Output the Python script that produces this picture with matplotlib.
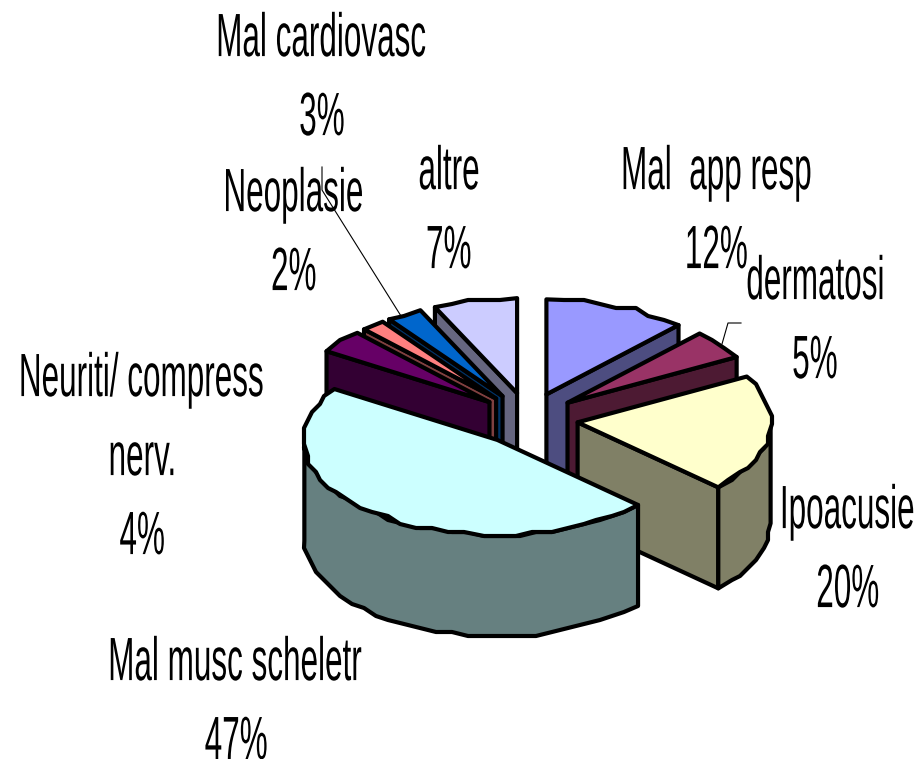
import matplotlib
matplotlib.use("Agg")
import matplotlib.pyplot as plt
import numpy as np
from matplotlib.font_manager import FontProperties
from matplotlib.patches import Polygon
from matplotlib.text import Text
from matplotlib.textpath import TextPath
from matplotlib.transforms import Affine2D, Bbox

categories = ["Mal  app resp", "dermatosi", "Ipoacusie", "Mal musc scheletr",
              "Neuriti/ compress\nnerv.", "Neoplasie", "Mal cardiovasc", "altre"]
values = [12, 5, 20, 47, 4, 2, 3, 7]
top_colors = ["#9999FF", "#993366", "#FFFFCC", "#CCFFFF",
              "#660066", "#FF8080", "#0066CC", "#CCCCFF"]
# back to front
draw_order = [0, 7, 6, 5, 4, 1, 2, 3]

# label centres in pixels (x, y of the first line)
label_pos = [(717, 168), (815, 278), (848, 507), (236, 659),
             (142, 375), (294, 190), (322, 35), (449, 168)]
line_step = 79

CX, CY = 528, 419
RX, RY = 193, 95
DEPTH = 101
EXPLODE = 50
EXPLODE_Y = 0.53


class NarrowText(Text):
    """Text squeezed horizontally, like the old Excel labels."""
    squeeze = 0.515

    def _path(self):
        fp = FontProperties(family="Liberation Sans", size=self.get_fontsize())
        return TextPath((0, 0), self.get_text(), prop=fp)

    def _tr(self, renderer_scale):
        box = self._path().get_extents()
        x, y = self.get_transform().transform(self.get_position())
        return (Affine2D().translate(-box.x0 - box.width / 2, -0.345 * self.get_fontsize())
                .scale(renderer_scale * self.squeeze, renderer_scale).translate(x, y))

    def get_window_extent(self, renderer=None, dpi=None):
        scale = self.get_figure().dpi / 72
        return Bbox(self._tr(scale).transform(self._path().get_extents().get_points()))

    def draw(self, renderer):
        gc = renderer.new_gc()
        gc.set_linewidth(0)
        gc.set_antialiased(True)
        tr = self._tr(renderer.points_to_pixels(1.0))
        renderer.draw_path(gc, self._path(), tr, (0, 0, 0, 1))
        gc.restore()


def rim_xy(t_deg):
    t = np.radians(t_deg)
    return RX * np.sin(t), -RY * np.cos(t)


def rim(t0, t1, cx, cy, dy=0.0, step=5.0, snap=4.0):
    # coarse rounded rim, gives the jagged edge of the original
    n = max(int(abs(t1 - t0) / step), 1)
    dx_, dy_ = rim_xy(np.linspace(t0, t1, n + 1))
    x = cx + dx_
    y = cy + dy_ + dy
    x[1:-1] = np.round(x[1:-1] / snap) * snap
    y[1:-1] = np.round(y[1:-1] / snap) * snap
    return np.column_stack([x, y])


def shade(color):
    rgb = np.array(matplotlib.colors.to_rgb(color))
    return tuple(rgb * 0.5)


fig = plt.figure(figsize=(9.21, 7.59), dpi=100)
ax = fig.add_axes([0, 0, 1, 1])
ax.set_xlim(0, 921)
ax.set_ylim(759, 0)
ax.axis("off")

edges = np.cumsum([0] + values) * 3.6
for i in draw_order:
    t0, t1 = edges[i], edges[i + 1]
    mid = np.radians((t0 + t1) / 2)
    ax0 = CX + EXPLODE * np.sin(mid)
    ay0 = CY - EXPLODE * EXPLODE_Y * np.cos(mid)
    dark = shade(top_colors[i])
    style = dict(edgecolor="black", linewidth=3.0, joinstyle="round")

    # radial wall facing the viewer
    for t in (t0, t1):
        if (t == t1 and t < 180) or (t == t0 and t > 180):
            dx_, dy_ = rim_xy(t)
            px, py = ax0 + dx_, ay0 + dy_
            wall = [(ax0, ay0), (px, py), (px, py + DEPTH), (ax0, ay0 + DEPTH)]
            ax.add_patch(Polygon(wall, facecolor=dark, **style))

    # outer wall, only the part below the widest points
    a, b = max(t0, 90), min(t1, 270)
    if b > a:
        up = rim(a, b, ax0, ay0)
        down = rim(a, b, ax0, ay0, dy=DEPTH)[::-1]
        ax.add_patch(Polygon(np.vstack([up, down]), facecolor=dark, **style))

    # top face
    top = np.vstack([[(ax0, ay0)], rim(t0, t1, ax0, ay0)])
    ax.add_patch(Polygon(top, facecolor=top_colors[i], **style))

    # corner line where radial and outer wall meet
    if 90 < t1 < 180:
        dx_, dy_ = rim_xy(t1)
        ax.plot([ax0 + dx_] * 2, [ay0 + dy_, ay0 + dy_ + DEPTH], color="black", lw=2.0)

# leader lines
ax.plot([322, 322, 401], [167, 190, 316], color="black", lw=0.8)
ax.plot([722, 728, 741], [344, 323, 323], color="black", lw=0.8)

for name, val, (x, y) in zip(categories, values, label_pos):
    lines = name.split("\n") + [f"{val}%"]
    for k, line in enumerate(lines):
        ax.add_artist(NarrowText(x, y + k * line_step, line, fontsize=44,
                                 transform=ax.transData))

fig.savefig("out.png", dpi=100)
